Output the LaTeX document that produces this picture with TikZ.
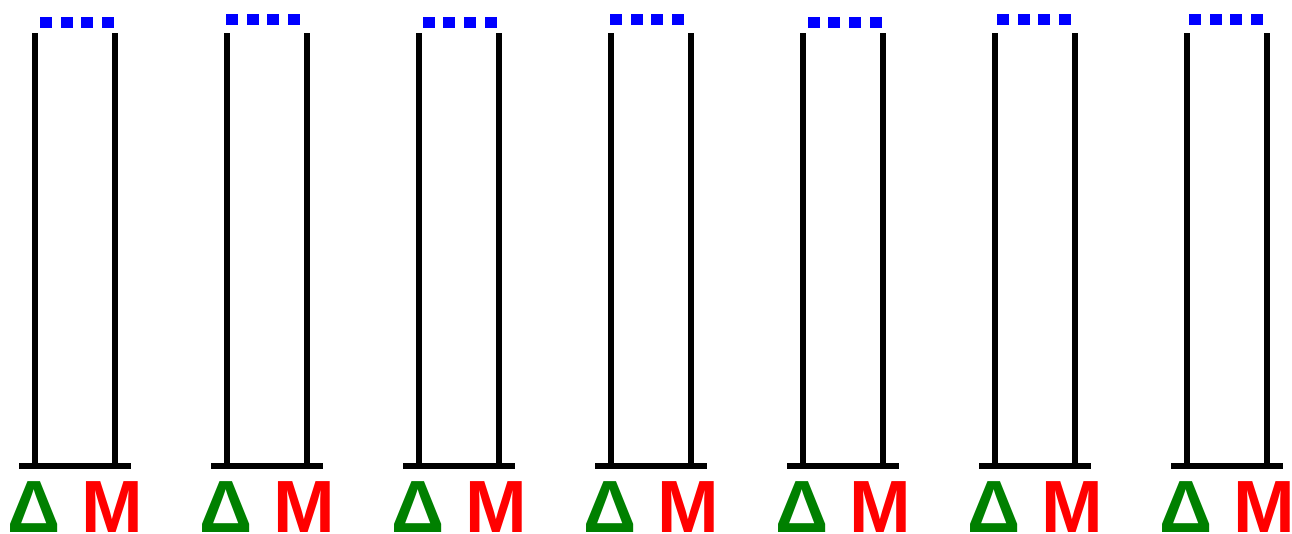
\documentclass[tikz,border=0pt]{standalone}
\usepackage{fontspec}
\setmainfont{Liberation Sans}
\definecolor{dgreen}{RGB}{0,128,0}
\begin{document}
\begin{tikzpicture}[x=1pt,y=-1pt,
  post/.style={line width=6pt,draw=black,line cap=butt},
  sq/.style={fill=blue,draw=none},
  lab/.style={font=\bfseries\fontsize{74}{74}\selectfont,inner sep=0pt,anchor=base},
  dl/.style={lab,text=dgreen},
  ml/.style={lab,text=red}]
\useasboundingbox (0,0) rectangle (1292,533);
\foreach \i/\sx/\sy in {0/40/22.3,1/226/19.5,2/422.7/22.3,3/610/19.5,4/807.7/22.3,5/997/19.5,6/1189/19.5} {
  \pgfmathsetmacro\x{35+192*\i}
  \coordinate (tl\i) at (\x,33);
  \coordinate (bl\i) at (\x,465.7);
  \coordinate (tr\i) at (\x+80,33);
  \coordinate (br\i) at (\x+80,465.7);
  \coordinate (b0\i) at (\x-16,465.7);
  \coordinate (b1\i) at (\x+96,465.7);
  \draw[post] (tl\i) -- (bl\i);
  \draw[post] (tr\i) -- (br\i);
  \draw[post] (b0\i) -- (b1\i);
  \foreach \k in {0,1,2,3} {
    \fill[sq] (\sx+20.67*\k,\sy-5.8) rectangle (\sx+20.67*\k+12,\sy+5.8);
  }
  \node[dl] (d\i) at (\x-0.5,532) {Δ};
  \node[ml] (m\i) at (\x+77.5,532) {M};
}
\end{tikzpicture}
\end{document}
